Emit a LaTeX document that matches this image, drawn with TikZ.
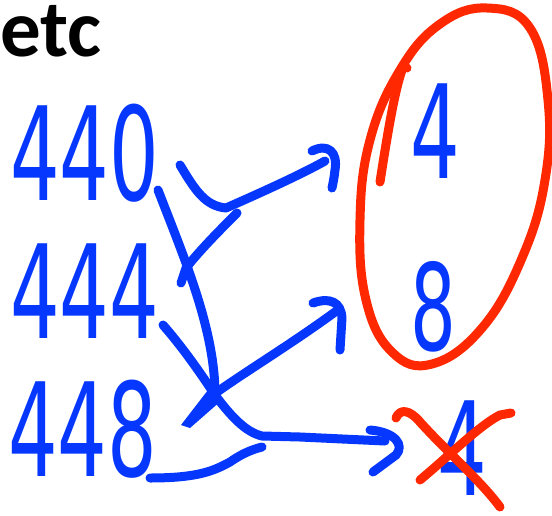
\documentclass[tikz,border=0pt]{standalone}
\usepackage{fontspec}
\newfontfamily\etcfont{Carlito}
\newfontfamily\handfont{DejaVu Sans}
\definecolor{penblue}{RGB}{5,55,255}
\definecolor{penred}{RGB}{255,40,0}
\begin{document}
\begin{tikzpicture}[x=1pt,y=-1pt,
  pen/.style={line width=9pt,line cap=round,line join=round},
  bluepen/.style={pen,draw=penblue},
  redpen/.style={pen,draw=penred},
  digit/.style={text=penblue,inner sep=0pt,anchor=base west,xscale=0.6,
    text depth=0pt,font=\handfont\fontsize{130}{130}\selectfont},
  digitsmall/.style={digit,font=\handfont\fontsize{120}{120}\selectfont}]
\useasboundingbox (0,0) rectangle (552,515);
% title
\node[anchor=base west,inner sep=0pt,text depth=0pt,font=\etcfont\bfseries\fontsize{81}{81}\selectfont] (etc) at (0,56) {etc};
% left numbers
\node[digit] (n440) at (10,200) {440};
\node[digit] (n444) at (10,338) {444};
\node[digit] (n448) at (8,476) {448};
% right numbers
\node[digit] (r4) at (410,178) {4};
\node[digitsmall] (r8) at (410,350) {8};
\node[digit] (r4x) at (437,495) {4};
% blue strokes
\draw[bluepen] (180,165) .. controls (195,190) and (205,206) .. (226,208)
  .. controls (260,193) and (300,175) .. (325,161);
\draw[bluepen] (312,151) .. controls (328,143) and (338,152) .. (335,170)
  .. controls (334,178) .. (332,188);
\draw[bluepen] (181,283) -- (186,268) .. controls (200,250) and (220,230) .. (237,213);
\draw[bluepen] (158,190) .. controls (185,260) and (215,330) .. (215,395);
\draw[bluepen] (163,325) .. controls (185,350) and (205,380) .. (215,395)
  .. controls (230,415) and (245,432) .. (262,436) -- (300,437) -- (385,441);
\draw[bluepen] (370,430) .. controls (395,432) and (405,445) .. (396,455) -- (373,472);
\draw[bluepen] (213,395) .. controls (240,375) and (290,345) .. (335,312);
\fill[penblue] (181,425) -- (208,390) -- (222,400) -- (190,428) -- cycle;
\draw[bluepen] (313,303) .. controls (330,297) and (341,302) .. (342,318) -- (340,350);
\draw[bluepen] (150,478) .. controls (200,478) and (215,470) .. (230,462)
  .. controls (240,455) and (250,450) .. (262,447);
% red ellipse
\draw[redpen] plot[smooth cycle,tension=0.7] coordinates {
  (487,8) (530,28) (548,100) (545,180) (522,258) (482,328) (432,364)
  (392,352) (366,300) (360,220) (370,140) (400,70) (440,24)};
\draw[redpen] (380,182) .. controls (388,130) and (395,90) .. (402,70)
  .. controls (404,66) .. (407,68);
% red cross
\draw[redpen] (396,418) .. controls (400,408) and (410,410) .. (420,422)
  .. controls (450,455) and (480,480) .. (500,507);
\draw[redpen] (420,480) .. controls (450,455) and (480,425) .. (500,415) -- (511,413);
\end{tikzpicture}
\end{document}
